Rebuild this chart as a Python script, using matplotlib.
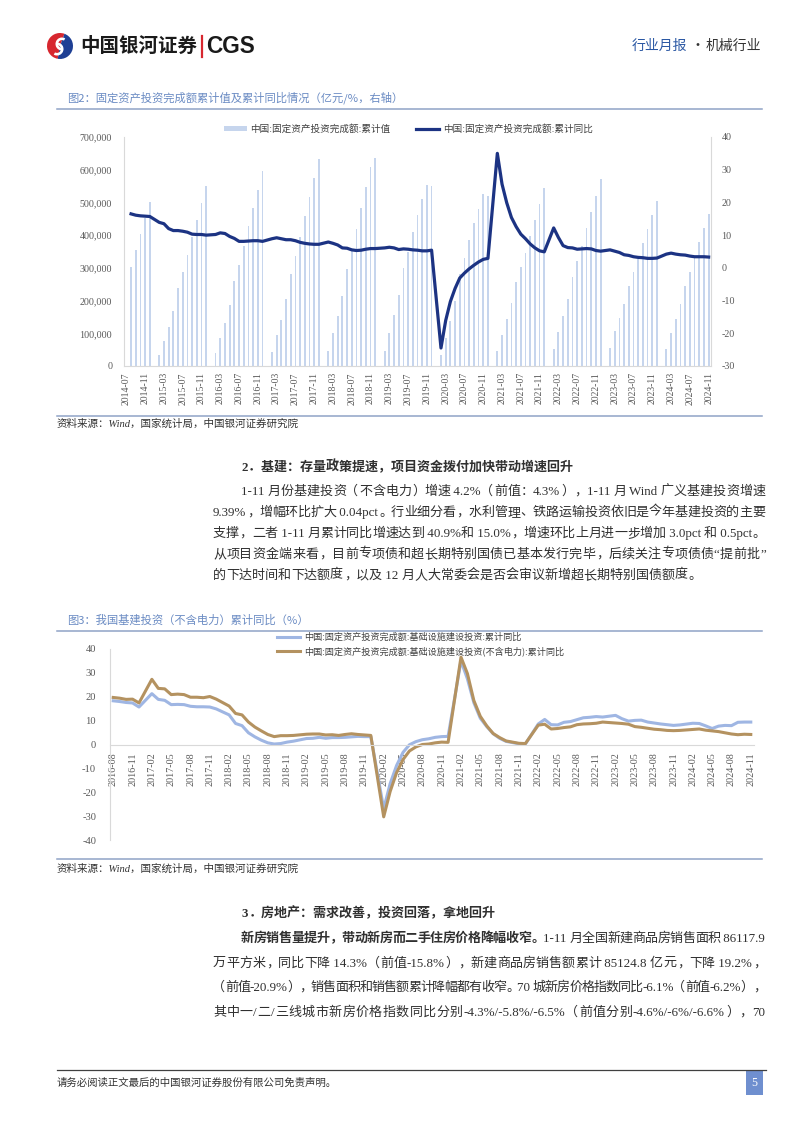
import numpy as np
import matplotlib
matplotlib.use("Agg")
import matplotlib.pyplot as plt
from matplotlib.patches import Rectangle, Wedge, Patch
from matplotlib.lines import Line2D
from matplotlib.ticker import FuncFormatter
from matplotlib.font_manager import FontProperties

plt.rcParams["axes.unicode_minus"] = False

# ---------------------------------------------------------------- data
# Figure 2: FAI cumulative value (100 mn yuan); Jan-Feb reported at Feb, no Jan point
fai_cum_2014 = [301627, 354638, 403574, 451984, 502005]            # Aug-Dec
fai_cum_2015 = [34477, 77511, 118558, 169610, 237132, 286425, 340010, 394531, 447425, 499480, 551590]
fai_cum_2016 = [39843, 85843, 130494, 187671, 258360, 310184, 367756, 426906, 482549, 538096, 596501]
fai_cum_2017 = [41378, 93777, 139670, 203707, 280605, 337376, 394150, 458478, 517818, 575057, 631684]
fai_cum_2018 = [44636, 100763, 152654, 213000, 297316, 353979, 418000, 483442, 547567, 607885, 635636]
fai_cum_2019 = [44849, 101871, 155747, 218026, 299100, 349145, 410000, 461204, 510000, 553000, 551478]
fai_cum_2020 = [33323, 84145, 136824, 199194, 281603, 329214, 385000, 436530, 479000, 526000, 518907]
fai_cum_2021 = [45236, 95994, 143917, 193917, 255900, 302823, 346913, 397827, 445823, 494082, 544547]
fai_cum_2022 = [50763, 104872, 153544, 205964, 271430, 319812, 367106, 421412, 471459, 520043, 572138]
fai_cum_2023 = [53577, 107282, 147482, 188815, 243113, 285898, 327042, 375035, 419409, 460814, 503036]
fai_cum_2024 = [50847, 100042, 143401, 188006, 245391, 287611, 329385, 378978, 423222, 465839]

fai_yoy_2014 = [16.5, 16.1, 15.9, 15.8, 15.7]
fai_yoy_2015 = [13.9, 13.5, 12.0, 11.4, 11.4, 11.2, 10.9, 10.3, 10.2, 10.2, 10.0]
fai_yoy_2016 = [10.2, 10.7, 10.5, 9.6, 9.0, 8.1, 8.1, 8.2, 8.3, 8.3, 8.1]
fai_yoy_2017 = [8.9, 9.2, 8.9, 8.6, 8.6, 8.3, 7.8, 7.5, 7.3, 7.2, 7.2]
fai_yoy_2018 = [7.9, 7.5, 7.0, 6.1, 6.0, 5.5, 5.3, 5.4, 5.7, 5.9, 5.9]
fai_yoy_2019 = [6.1, 6.3, 6.1, 5.6, 5.8, 5.7, 5.5, 5.4, 5.2, 5.2, 5.4]
fai_yoy_2020 = [-24.5, -16.1, -10.3, -6.3, -3.1, -1.6, -0.3, 0.8, 1.8, 2.6, 2.9]
fai_yoy_2021 = [35.0, 25.6, 19.9, 15.4, 12.6, 10.3, 8.9, 7.3, 6.1, 5.2, 4.9]
fai_yoy_2022 = [12.2, 9.3, 6.8, 6.2, 6.1, 5.7, 5.8, 5.9, 5.8, 5.3, 5.1]
fai_yoy_2023 = [5.5, 5.1, 4.7, 4.0, 3.8, 3.4, 3.2, 3.1, 2.9, 2.9, 3.0]
fai_yoy_2024 = [4.2, 4.5, 4.2, 4.0, 3.9, 3.6, 3.4, 3.4, 3.4, 3.3]

fig2_xticklabels = ["2014-07", "2014-11", "2015-03", "2015-07", "2015-11", "2016-03", "2016-07",
                    "2016-11", "2017-03", "2017-07", "2017-11", "2018-03", "2018-07", "2018-11",
                    "2019-03", "2019-07", "2019-11", "2020-03", "2020-07", "2020-11", "2021-03",
                    "2021-07", "2021-11", "2022-03", "2022-07", "2022-11", "2023-03", "2023-07",
                    "2023-11", "2024-03", "2024-07", "2024-11"]

# Figure 3: infrastructure FAI cumulative yoy (%)
infra_2016 = [18.3, 18.0, 17.6, 17.4, 15.7]                            # Aug-Dec
infra_2017 = [21.3, 18.9, 18.5, 16.7, 16.8, 16.7, 16.0, 15.8, 15.8, 15.7, 14.9]
infra_2018 = [12.4, 8.8, 7.9, 4.9, 3.2, 1.8, 0.7, 0.2, 0.4, 1.0, 1.4]
infra_2019 = [2.5, 2.6, 3.0, 2.6, 2.9, 2.9, 3.0, 3.2, 3.4, 3.3, 3.3]
infra_2020 = [-26.9, -16.4, -8.8, -3.3, -0.1, 1.2, 2.0, 2.4, 3.0, 3.3, 3.4]
infra_2021 = [35.0, 27.5, 17.5, 11.0, 7.5, 4.5, 2.6, 1.3, 0.8, 0.3, 0.2]
infra_2022 = [8.6, 10.5, 8.3, 8.2, 9.3, 9.6, 10.4, 11.2, 11.4, 11.7, 11.5]
infra_2023 = [12.2, 10.8, 9.8, 10.1, 10.2, 9.4, 9.0, 8.6, 8.3, 8.0, 8.2]
infra_2024 = [8.9, 8.8, 7.8, 6.7, 7.7, 8.0, 7.9, 9.3, 9.4, 9.4]

infra_xp_2016 = [19.7, 19.4, 18.9, 19.0, 17.4]
infra_xp_2017 = [27.3, 23.5, 23.3, 20.9, 21.1, 20.9, 19.8, 19.8, 19.6, 20.1, 19.0]
infra_xp_2018 = [16.1, 13.0, 12.4, 9.4, 7.3, 5.7, 4.2, 3.3, 3.7, 3.7, 3.8]
infra_xp_2019 = [4.3, 4.4, 4.4, 4.0, 4.1, 3.8, 4.2, 4.5, 4.2, 4.0, 3.8]
infra_xp_2020 = [-30.3, -19.7, -11.8, -6.3, -2.7, -1.0, 0.0, 0.2, 0.7, 1.0, 0.9]
infra_xp_2021 = [36.6, 29.7, 18.4, 11.8, 7.8, 4.6, 2.9, 1.5, 1.0, 0.5, 0.4]
infra_xp_2022 = [8.1, 8.5, 6.5, 6.7, 7.1, 7.4, 8.3, 8.6, 8.7, 8.9, 9.4]
infra_xp_2023 = [9.0, 8.8, 8.5, 7.5, 7.2, 6.8, 6.4, 6.2, 5.9, 5.8, 5.9]
infra_xp_2024 = [6.3, 6.5, 6.0, 5.7, 5.4, 4.9, 4.4, 4.1, 4.3, 4.2]

fig3_xticklabels = ["2016-08", "2016-11", "2017-02", "2017-05", "2017-08", "2017-11", "2018-02",
                    "2018-05", "2018-08", "2018-11", "2019-02", "2019-05", "2019-08", "2019-11",
                    "2020-02", "2020-05", "2020-08", "2020-11", "2021-02", "2021-05", "2021-08",
                    "2021-11", "2022-02", "2022-05", "2022-08", "2022-11", "2023-02", "2023-05",
                    "2023-08", "2023-11", "2024-02", "2024-05", "2024-08", "2024-11"]

legend2 = ["中国:固定资产投资完成额:累计值", "中国:固定资产投资完成额:累计同比"]
legend3 = ["中国:固定资产投资完成额:基础设施建设投资:累计同比",
           "中国:固定资产投资完成额:基础设施建设投资(不含电力):累计同比"]


def to_monthly(yearly, first_year, first_month, origin_year, origin_month):
    xs, ys = [], []
    for i, vals in enumerate(yearly):
        yr = first_year + i
        m0 = first_month if i == 0 else 2
        for k, v in enumerate(vals):
            xs.append((yr - origin_year) * 12 + (m0 + k - origin_month))
            ys.append(v)
    return np.array(xs), np.array(ys, dtype=float)


fai_cum_years = [fai_cum_2014, fai_cum_2015, fai_cum_2016, fai_cum_2017, fai_cum_2018, fai_cum_2019,
                 fai_cum_2020, fai_cum_2021, fai_cum_2022, fai_cum_2023, fai_cum_2024]
fai_yoy_years = [fai_yoy_2014, fai_yoy_2015, fai_yoy_2016, fai_yoy_2017, fai_yoy_2018, fai_yoy_2019,
                 fai_yoy_2020, fai_yoy_2021, fai_yoy_2022, fai_yoy_2023, fai_yoy_2024]
infra_years = [infra_2016, infra_2017, infra_2018, infra_2019, infra_2020, infra_2021, infra_2022,
               infra_2023, infra_2024]
infra_xp_years = [infra_xp_2016, infra_xp_2017, infra_xp_2018, infra_xp_2019, infra_xp_2020,
                  infra_xp_2021, infra_xp_2022, infra_xp_2023, infra_xp_2024]

x_cum, y_cum = to_monthly(fai_cum_years, 2014, 8, 2014, 7)
x_yoy, y_yoy = to_monthly(fai_yoy_years, 2014, 8, 2014, 7)
x_inf, y_inf = to_monthly(infra_years, 2016, 8, 2016, 8)
x_ixp, y_ixp = to_monthly(infra_xp_years, 2016, 8, 2016, 8)

# ---------------------------------------------------------------- fonts / colours
CJK = "Noto Sans CJK SC"
MIX = ["Liberation Serif", CJK]
TICK_C = "#595959"
AXIS_C = "#d9d9d9"
TITLE_C = "#6a8bc3"
RULE_C = "#8fa3c6"
BAR_C = "#c6d5ed"
NAVY = "#1c3383"
BLUE3 = "#9fb6e3"
TAN3 = "#b49260"
TXT = "#303030"

W, H = 802, 1133
fig = plt.figure(figsize=(W / 100, H / 100), dpi=100)
fig.patch.set_facecolor("white")

page = fig.add_axes([0, 0, 1, 1], zorder=0)
page.set_xlim(0, W)
page.set_ylim(H, 0)
page.axis("off")


def ax_rect(l, t, r, b):
    return [l / W, 1 - b / H, (r - l) / W, (b - t) / H]


# ---------------------------------------------------------------- header
page.add_patch(Wedge((60, 46), 13, 100, 290, color="#d7272f", lw=0))
page.add_patch(Wedge((60, 46), 13, 290, 460, color="#1e3f94", lw=0))
page.add_patch(Wedge((62, 44), 6.5, 90, 300, width=2.6, color="white", lw=0))
page.add_patch(Wedge((57, 49), 6.5, 270, 480, width=2.6, color="white", lw=0))
page.text(80, 46, "中国银河证券", family=CJK, weight="bold", fontsize=14.0, color="#1a1a1a",
          va="center", ha="left")
page.plot([202, 202], [36, 57], color="#d7272f", lw=1.6)
page.text(206, 46.5, "CGS", family="Liberation Sans", weight="bold", fontsize=16.3, color="#1a1a1a",
          va="center", ha="left")
page.text(632, 46, "行业月报", family=CJK, fontsize=10.0, color="#2a57a3", va="center", ha="left")
page.text(697, 46, "·", family=CJK, fontsize=10.0, color="#333333", va="center", ha="center")
page.text(706, 46, "机械行业", family=CJK, fontsize=10.0, color="#333333", va="center", ha="left")

# ---------------------------------------------------------------- figure 2 frame
page.text(67, 98, "图2：固定资产投资完成额累计值及累计同比情况（亿元/%，右轴）", family=CJK,
          fontsize=8.15, color=TITLE_C, va="center", ha="left")
page.plot([57, 762], [108.5, 108.5], color=RULE_C, lw=1.1)
page.plot([57, 762], [415.5, 415.5], color=RULE_C, lw=1.1)
page.text(57, 424, "资料来源：Wind，国家统计局，中国银河证券研究院", family=MIX, style="italic",
          fontsize=7.6, color="#333333", va="center", ha="left")

ax = fig.add_axes(ax_rect(124, 137, 711, 366), zorder=2)
ax.patch.set_alpha(0)
ax.bar(x_cum, y_cum, width=0.38, color=BAR_C, zorder=1, label=legend2[0])
ax.set_xlim(-0.5, 124.5)
ax.set_ylim(0, 700000)
ax.set_yticks(np.arange(0, 700001, 100000))
ax.yaxis.set_major_formatter(FuncFormatter(lambda v, p: f"{int(v):,}"))
ax.set_xticks(np.arange(0, 125, 4))
ax.set_xticklabels(fig2_xticklabels, rotation=90, family="Liberation Serif", fontsize=7.0,
                   color=TICK_C)
ax.tick_params(axis="x", length=0, pad=4.5)
ax.tick_params(axis="y", length=0, pad=8.5, labelsize=7.2, labelcolor=TICK_C)
for lab in ax.get_yticklabels():
    lab.set_family("Liberation Serif")
for s in ["top", "right"]:
    ax.spines[s].set_visible(False)
for s in ["left", "bottom"]:
    ax.spines[s].set_color(AXIS_C)
    ax.spines[s].set_linewidth(0.8)

ax2 = ax.twinx()
ax2.set_zorder(3)
ax2.patch.set_alpha(0)
ax2.plot(x_yoy, y_yoy, color=NAVY, lw=2.3, solid_joinstyle="round", label=legend2[1])
ax2.set_ylim(-30, 40)
ax2.set_yticks(np.arange(-30, 41, 10))
ax2.tick_params(axis="y", length=0, pad=7.5, labelsize=7.2, labelcolor=TICK_C)
for lab in ax2.get_yticklabels():
    lab.set_family("Liberation Serif")
for s in ["top", "left", "bottom"]:
    ax2.spines[s].set_visible(False)
ax2.spines["right"].set_color(AXIS_C)
ax2.spines["right"].set_linewidth(0.8)

h2 = [Patch(facecolor=BAR_C, edgecolor="none"), Line2D([], [], color=NAVY, lw=2.3)]
fig.legend(h2, legend2, loc="center left", bbox_to_anchor=(224 / W, 1 - 129 / H), ncol=2,
           frameon=False, prop={"family": CJK, "size": 6.9}, handlelength=2.4, handleheight=0.55,
           handletextpad=0.35, columnspacing=2.7, borderpad=0, borderaxespad=0,
           labelcolor="#404040")

# ---------------------------------------------------------------- figure 3 frame
page.text(67, 620, "图3：我国基建投资（不含电力）累计同比（%）", family=CJK, fontsize=8.15,
          color=TITLE_C, va="center", ha="left")
page.plot([57, 762], [631, 631], color=RULE_C, lw=1.1)
page.plot([57, 762], [858.5, 858.5], color=RULE_C, lw=1.1)
page.text(57, 869, "资料来源：Wind，国家统计局，中国银河证券研究院", family=MIX, style="italic",
          fontsize=7.6, color="#333333", va="center", ha="left")

ax3 = fig.add_axes(ax_rect(110, 649, 754, 840), zorder=2)
ax3.patch.set_alpha(0)
ax3.spines["bottom"].set_position(("data", 0))
ax3.plot(x_inf, y_inf, color=BLUE3, lw=2.2, solid_joinstyle="round", label=legend3[0])
ax3.plot(x_ixp, y_ixp, color=TAN3, lw=2.2, solid_joinstyle="round", label=legend3[1])
ax3.set_xlim(-0.5, 99.5)
ax3.set_ylim(-40, 40)
ax3.set_yticks(np.arange(-40, 41, 10))
ax3.set_xticks(np.arange(0, 100, 3))
ax3.set_xticklabels(fig3_xticklabels, rotation=90, family="Liberation Serif", fontsize=7.3,
                    color=TICK_C)
ax3.tick_params(axis="x", length=0, pad=5.5)
ax3.tick_params(axis="y", length=0, pad=10, labelsize=7.6, labelcolor=TICK_C)
for lab in ax3.get_yticklabels():
    lab.set_family("Liberation Serif")
for s in ["top", "right"]:
    ax3.spines[s].set_visible(False)
for s in ["left", "bottom"]:
    ax3.spines[s].set_color(AXIS_C)
    ax3.spines[s].set_linewidth(0.8)
ax3.legend(loc="upper left", bbox_to_anchor=(277 / W, 1 - 632.5 / H),
           bbox_transform=fig.transFigure, frameon=False, prop={"family": CJK, "size": 6.6},
           handlelength=2.5, handletextpad=0.45, labelspacing=0.55, borderpad=0,
           borderaxespad=0, labelcolor="#404040")

# ---------------------------------------------------------------- body text (justified)
BODY_SIZE = 9.4
fig.canvas.draw()
renderer = fig.canvas.get_renderer()
_w0 = {}


def _fp(weight, size):
    return FontProperties(family=MIX, weight=weight, size=size)


def advance(s, fp):
    key = (fp.get_weight(), fp.get_size())
    if key not in _w0:
        _w0[key] = renderer.get_text_width_height_descent("||", fp, ismath=False)[0]
    return renderer.get_text_width_height_descent("|" + s + "|", fp, ismath=False)[0] - _w0[key]


def is_wide(ch):
    o = ord(ch)
    return o >= 0x2E80 or 0x3000 <= o <= 0x303F or 0xFF00 <= o <= 0xFFEF or ch in "“”"


LEFT_P = "，。、）：；！？．”"
RIGHT_P = "（“"


def body_line(x0, yc, segs, x1=None, size=BODY_SIZE):
    chunks = []
    for txt, wt in segs:
        cur = ""
        for ch in txt:
            if is_wide(ch):
                if cur:
                    chunks.append((cur, wt, False))
                    cur = ""
                chunks.append((ch, wt, True))
            else:
                cur += ch
        if cur:
            chunks.append((cur, wt, False))
    advs = [advance(c, _fp(wt, size)) for c, wt, _ in chunks]
    gap = 0.0
    if x1 is not None and len(chunks) > 1:
        gap = (x1 - x0 - sum(advs)) / (len(chunks) - 1)
    em = size * 100 / 72
    yb = yc + 0.36 * em
    x = x0
    for (c, wt, wide), a in zip(chunks, advs):
        kw = dict(family=MIX, fontsize=size, weight=wt, color=TXT, va="baseline")
        if not wide:
            page.text(x, yb, c, ha="left", **kw)
        elif c in LEFT_P:
            page.text(x + 0.06 * em, yb, c, ha="left", **kw)
        elif c in RIGHT_P:
            page.text(x + a - 0.06 * em, yb, c, ha="right", **kw)
        else:
            page.text(x + a / 2, yb, c, ha="center", **kw)
        x += a + gap


N, B = "normal", "bold"
body_line(241, 466, [("2．基建：存量政策提速，项目资金拨付加快带动增速回升", B)])
body_line(241, 490, [("1-11 月份基建投资（不含电力）增速 4.2%（前值：4.3%），1-11 月 Wind 广义基建投资增速", N)], 765)
body_line(213, 511, [("9.39%，增幅环比扩大 0.04pct。行业细分看，水利管理、铁路运输投资依旧是今年基建投资的主要", N)], 765)
body_line(213, 532, [("支撑，二者 1-11 月累计同比增速达到 40.9%和 15.0%，增速环比上月进一步增加 3.0pct 和 0.5pct。", N)], 765)
body_line(213, 553, [("从项目资金端来看，目前专项债和超长期特别国债已基本发行完毕，后续关注专项债债“提前批”", N)], 765)
body_line(213, 574, [("的下达时间和下达额度，以及 12 月人大常委会是否会审议新增超长期特别国债额度。", N)])

body_line(241, 912, [("3．房地产：需求改善，投资回落，拿地回升", B)])
body_line(241, 937, [("新房销售量提升，带动新房而二手住房价格降幅收窄。", B),
                     ("1-11 月全国新建商品房销售面积 86117.9", N)], 765)
body_line(213, 962, [("万平方米，同比下降 14.3%（前值-15.8%），新建商品房销售额累计 85124.8 亿元，下降 19.2%，", N)], 765)
body_line(213, 986, [("（前值-20.9%），销售面积和销售额累计降幅都有收窄。70 城新房价格指数同比-6.1%（前值-6.2%），", N)], 765)
body_line(213, 1011, [("其中一/二/三线城市新房价格指数同比分别-4.3%/-5.8%/-6.5%（前值分别-4.6%/-6%/-6.6%），70", N)], 765)

# ---------------------------------------------------------------- footer
page.plot([57, 766], [1070, 1070], color="#404040", lw=0.9)
page.text(57, 1083, "请务必阅读正文最后的中国银河证券股份有限公司免责声明。", family=CJK,
          fontsize=7.5, color="#333333", va="center", ha="left")
page.add_patch(Rectangle((746, 1071), 17, 24, color="#6f8fcf", lw=0))
page.text(754.5, 1083, "5", family="Liberation Serif", fontsize=8.5, color="white",
          va="center", ha="center")

fig.savefig("out.png", dpi=100, facecolor="white")
